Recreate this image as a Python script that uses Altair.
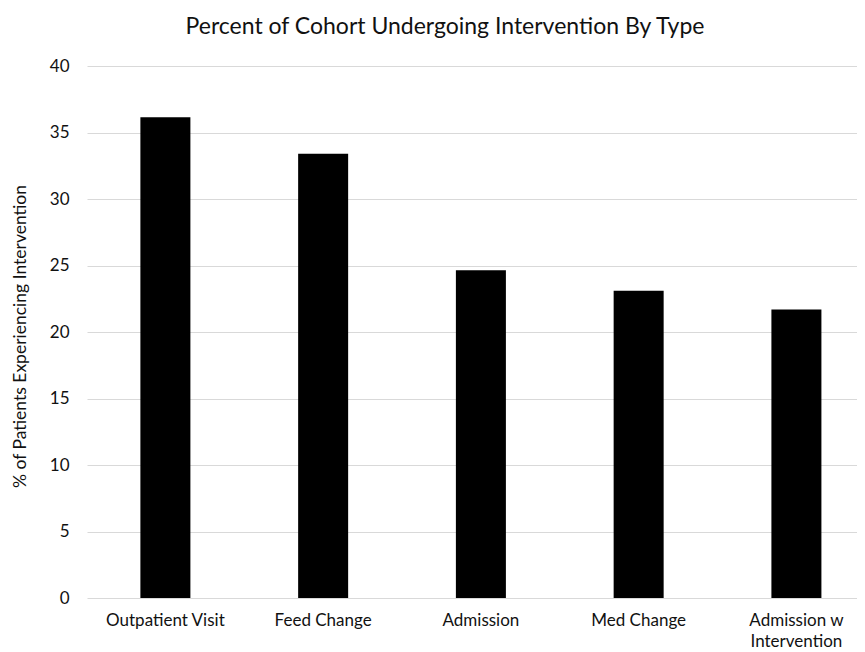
import altair as alt
import pandas as pd

categories = ["Outpatient Visit", "Feed Change", "Admission", "Med Change", "Admission w Intervention"]
values = [36.15, 33.4, 24.65, 23.1, 21.7]
y_ticks = [0, 5, 10, 15, 20, 25, 30, 35, 40]

df = pd.DataFrame({"cat": categories, "val": values})

FONT = "Lato"
TXT = "#111111"

chart = alt.Chart(df).mark_bar(color="#000000").encode(
    x=alt.X(
        "cat:N",
        sort=categories,
        scale=alt.Scale(paddingInner=0.683, paddingOuter=0.282, align=0.6),
        axis=alt.Axis(
            title=None,
            labelAngle=0,
            domain=False,
            ticks=False,
            labelFont=FONT,
            labelFontSize=17,
            labelColor=TXT,
            labelPadding=14,
            labelLineHeight=21,
            labelExpr="datum.label == 'Admission w Intervention' ? ['Admission w', 'Intervention'] : datum.label",
        ),
    ),
    y=alt.Y(
        "val:Q",
        scale=alt.Scale(domain=[0, 40], nice=False),
        axis=alt.Axis(
            values=y_ticks,
            title="% of Patients Experiencing Intervention",
            titleFont=FONT,
            titleFontSize=17.5,
            titleFontWeight="normal",
            titleColor=TXT,
            titleAngle=-90,
            titleX=-67,
            titleY=270,
            titleAlign="center",
            titleBaseline="middle",
            labelFont=FONT,
            labelFontSize=17,
            labelColor=TXT,
            labelPadding=18,
            domain=False,
            ticks=False,
            grid=True,
            gridColor="#d9d9d9",
            gridWidth=1.2,
        ),
    ),
).properties(
    width=770,
    height=532,
    padding={"left": 79, "top": 58, "right": 0, "bottom": 54},
    autosize=alt.AutoSizeParams(type="none"),
    title=alt.TitleParams(
        "Percent of Cohort Undergoing Intervention By Type",
        font=FONT,
        fontSize=23,
        fontWeight="normal",
        color=TXT,
        anchor="middle",
        dx=-27,
        offset=18,
    ),
).configure_view(stroke=None)

chart.save("out.html", embed_options={"renderer": "svg", "actions": False})
